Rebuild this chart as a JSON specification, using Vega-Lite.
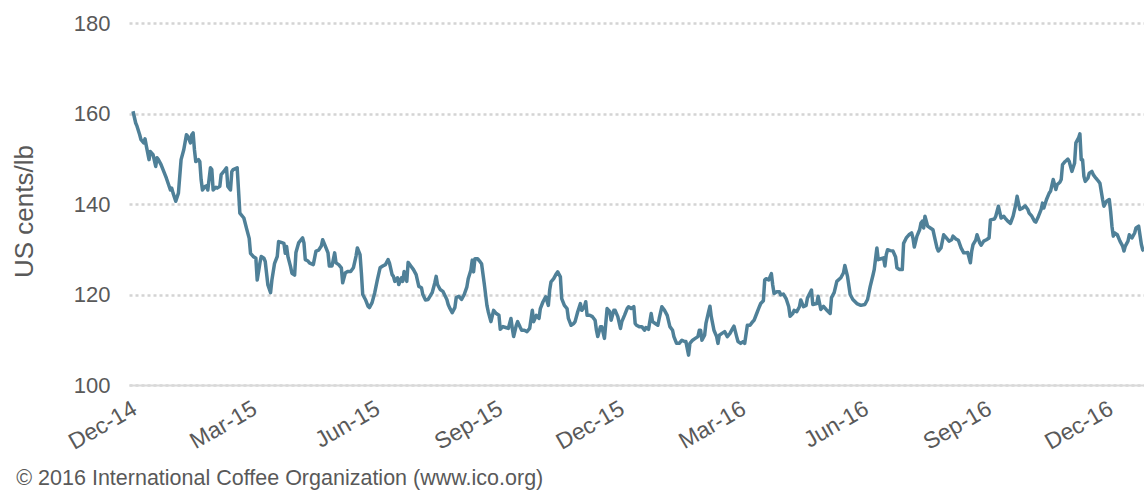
{
  "$schema": "https://vega.github.io/schema/vega-lite/v6.json",
  "width": 1015,
  "height": 362,
  "autosize": "none",
  "padding": {"left": 129, "top": 23, "right": 0, "bottom": 105},
  "background": "white",
  "config": {"view": {"stroke": null}, "font": "Liberation Sans"},
  "title": {"text": "© 2016 International Coffee Organization (www.ico.org)", "orient": "bottom", "anchor": "start", "fontSize": 21.5, "fontWeight": "normal", "color": "#595959", "font": "Liberation Sans", "dx": 5, "offset": 14},
  "data": {"values": [
    {"date":"2014-12-04","price":160.5},{"date":"2014-12-06","price":157.9},{"date":"2014-12-07","price":157.2},{"date":"2014-12-09","price":155.3},{"date":"2014-12-10","price":154.2},{"date":"2014-12-12","price":153.5},{"date":"2014-12-13","price":154.4},{"date":"2014-12-14","price":152.8},{"date":"2014-12-16","price":149.8},{"date":"2014-12-17","price":151.6},{"date":"2014-12-19","price":150.9},{"date":"2014-12-21","price":148.3},{"date":"2014-12-22","price":150.2},{"date":"2014-12-23","price":149.8},{"date":"2014-12-25","price":148.7},{"date":"2014-12-27","price":147.2},{"date":"2014-12-29","price":145.7},
    {"date":"2015-01-01","price":143.1},{"date":"2015-01-02","price":143.5},{"date":"2015-01-03","price":142.4},{"date":"2015-01-05","price":140.6},{"date":"2015-01-07","price":142.4},{"date":"2015-01-09","price":149.8},{"date":"2015-01-11","price":152.0},{"date":"2015-01-13","price":155.3},{"date":"2015-01-14","price":155.0},{"date":"2015-01-16","price":153.5},{"date":"2015-01-17","price":155.3},{"date":"2015-01-18","price":155.7},{"date":"2015-01-19","price":152.0},{"date":"2015-01-20","price":149.4},{"date":"2015-01-22","price":149.8},{"date":"2015-01-23","price":149.4},{"date":"2015-01-24","price":145.4},{"date":"2015-01-25","price":143.1},{"date":"2015-01-27","price":143.9},{"date":"2015-01-28","price":144.0},{"date":"2015-01-29","price":143.1},{"date":"2015-01-31","price":148.0},
    {"date":"2015-02-01","price":147.6},{"date":"2015-02-02","price":143.1},{"date":"2015-02-04","price":143.7},{"date":"2015-02-05","price":143.5},{"date":"2015-02-07","price":143.9},{"date":"2015-02-08","price":146.5},{"date":"2015-02-10","price":147.2},{"date":"2015-02-12","price":148.0},{"date":"2015-02-13","price":143.9},{"date":"2015-02-15","price":143.1},{"date":"2015-02-16","price":147.2},{"date":"2015-02-17","price":147.6},{"date":"2015-02-20","price":148.0},{"date":"2015-02-21","price":143.1},{"date":"2015-02-22","price":138.0},{"date":"2015-02-25","price":136.9},{"date":"2015-02-27","price":134.6},
    {"date":"2015-03-01","price":132.4},{"date":"2015-03-02","price":129.1},{"date":"2015-03-04","price":128.4},{"date":"2015-03-06","price":128.0},{"date":"2015-03-07","price":123.2},{"date":"2015-03-09","price":126.9},{"date":"2015-03-10","price":128.4},{"date":"2015-03-12","price":128.0},{"date":"2015-03-13","price":127.3},{"date":"2015-03-14","price":124.7},{"date":"2015-03-15","price":122.1},{"date":"2015-03-17","price":120.4},{"date":"2015-03-18","price":123.2},{"date":"2015-03-20","price":126.9},{"date":"2015-03-22","price":128.4},{"date":"2015-03-23","price":131.7},{"date":"2015-03-25","price":131.5},{"date":"2015-03-27","price":131.3},{"date":"2015-03-28","price":129.1},{"date":"2015-03-29","price":130.6},{"date":"2015-03-30","price":128.4},
    {"date":"2015-04-01","price":126.1},{"date":"2015-04-02","price":124.7},{"date":"2015-04-04","price":124.3},{"date":"2015-04-05","price":129.3},{"date":"2015-04-07","price":131.4},{"date":"2015-04-10","price":132.5},{"date":"2015-04-11","price":131.4},{"date":"2015-04-12","price":127.7},{"date":"2015-04-14","price":127.4},{"date":"2015-04-15","price":127.0},{"date":"2015-04-18","price":126.6},{"date":"2015-04-20","price":129.6},{"date":"2015-04-22","price":129.8},{"date":"2015-04-24","price":130.7},{"date":"2015-04-25","price":132.1},{"date":"2015-04-27","price":130.7},{"date":"2015-04-29","price":129.2},{"date":"2015-04-30","price":126.3},
    {"date":"2015-05-02","price":126.3},{"date":"2015-05-04","price":129.2},{"date":"2015-05-05","price":127.0},{"date":"2015-05-07","price":126.6},{"date":"2015-05-09","price":125.9},{"date":"2015-05-10","price":122.6},{"date":"2015-05-12","price":124.8},{"date":"2015-05-14","price":125.1},{"date":"2015-05-16","price":125.1},{"date":"2015-05-18","price":125.9},{"date":"2015-05-20","price":128.5},{"date":"2015-05-21","price":130.3},{"date":"2015-05-23","price":128.8},{"date":"2015-05-24","price":124.8},{"date":"2015-05-25","price":120.0},{"date":"2015-05-27","price":118.9},{"date":"2015-05-29","price":117.4},{"date":"2015-05-30","price":117.1},
    {"date":"2015-06-01","price":118.2},{"date":"2015-06-03","price":120.4},{"date":"2015-06-05","price":123.3},{"date":"2015-06-07","price":125.9},{"date":"2015-06-09","price":126.3},{"date":"2015-06-11","price":126.6},{"date":"2015-06-13","price":127.7},{"date":"2015-06-14","price":127.0},{"date":"2015-06-16","price":124.4},{"date":"2015-06-17","price":124.0},{"date":"2015-06-18","price":122.9},{"date":"2015-06-20","price":123.7},{"date":"2015-06-21","price":122.2},{"date":"2015-06-23","price":123.7},{"date":"2015-06-24","price":122.9},{"date":"2015-06-25","price":125.1},{"date":"2015-06-27","price":122.9},{"date":"2015-06-28","price":127.1},{"date":"2015-06-30","price":126.3},
    {"date":"2015-07-02","price":125.5},{"date":"2015-07-04","price":124.4},{"date":"2015-07-06","price":121.8},{"date":"2015-07-08","price":121.5},{"date":"2015-07-09","price":120.0},{"date":"2015-07-11","price":118.8},{"date":"2015-07-13","price":118.9},{"date":"2015-07-16","price":120.4},{"date":"2015-07-18","price":122.6},{"date":"2015-07-19","price":124.0},{"date":"2015-07-20","price":122.2},{"date":"2015-07-22","price":121.1},{"date":"2015-07-24","price":120.7},{"date":"2015-07-27","price":118.9},{"date":"2015-07-28","price":117.8},{"date":"2015-07-29","price":117.1},{"date":"2015-07-31","price":116.0},
    {"date":"2015-08-02","price":117.1},{"date":"2015-08-03","price":119.3},{"date":"2015-08-05","price":119.6},{"date":"2015-08-07","price":118.9},{"date":"2015-08-09","price":120.0},{"date":"2015-08-11","price":121.7},{"date":"2015-08-12","price":123.5},{"date":"2015-08-14","price":125.4},{"date":"2015-08-15","price":127.6},{"date":"2015-08-16","price":125.0},{"date":"2015-08-17","price":127.9},{"date":"2015-08-19","price":127.9},{"date":"2015-08-21","price":127.2},{"date":"2015-08-22","price":126.8},{"date":"2015-08-24","price":122.4},{"date":"2015-08-26","price":117.6},{"date":"2015-08-27","price":116.2},{"date":"2015-08-29","price":114.0},{"date":"2015-08-31","price":116.5},
    {"date":"2015-09-02","price":115.8},{"date":"2015-09-04","price":115.4},{"date":"2015-09-05","price":112.3},{"date":"2015-09-07","price":112.9},{"date":"2015-09-09","price":112.7},{"date":"2015-09-11","price":112.5},{"date":"2015-09-13","price":114.7},{"date":"2015-09-14","price":112.5},{"date":"2015-09-15","price":110.7},{"date":"2015-09-17","price":113.2},{"date":"2015-09-18","price":114.0},{"date":"2015-09-20","price":112.7},{"date":"2015-09-21","price":112.1},{"date":"2015-09-23","price":112.1},{"date":"2015-09-25","price":111.8},{"date":"2015-09-27","price":112.5},{"date":"2015-09-29","price":116.5},{"date":"2015-09-30","price":114.0},
    {"date":"2015-10-02","price":115.4},{"date":"2015-10-04","price":114.7},{"date":"2015-10-05","price":116.9},{"date":"2015-10-07","price":118.4},{"date":"2015-10-09","price":119.5},{"date":"2015-10-11","price":117.6},{"date":"2015-10-12","price":121.0},{"date":"2015-10-13","price":122.8},{"date":"2015-10-15","price":123.5},{"date":"2015-10-17","price":124.6},{"date":"2015-10-18","price":125.0},{"date":"2015-10-20","price":123.9},{"date":"2015-10-21","price":119.1},{"date":"2015-10-23","price":117.6},{"date":"2015-10-25","price":116.9},{"date":"2015-10-26","price":114.7},{"date":"2015-10-28","price":113.2},{"date":"2015-10-30","price":113.6},{"date":"2015-10-31","price":114.0},
    {"date":"2015-11-02","price":116.2},{"date":"2015-11-04","price":118.0},{"date":"2015-11-05","price":116.5},{"date":"2015-11-07","price":117.3},{"date":"2015-11-08","price":118.4},{"date":"2015-11-09","price":115.4},{"date":"2015-11-11","price":115.4},{"date":"2015-11-13","price":115.1},{"date":"2015-11-15","price":114.3},{"date":"2015-11-16","price":112.1},{"date":"2015-11-17","price":110.7},{"date":"2015-11-19","price":112.9},{"date":"2015-11-20","price":112.9},{"date":"2015-11-22","price":110.3},{"date":"2015-11-23","price":113.6},{"date":"2015-11-24","price":116.9},{"date":"2015-11-26","price":116.2},{"date":"2015-11-27","price":114.3},{"date":"2015-11-29","price":116.5},{"date":"2015-11-30","price":116.5},
    {"date":"2015-12-02","price":115.1},{"date":"2015-12-04","price":112.5},{"date":"2015-12-05","price":114.0},{"date":"2015-12-07","price":115.4},{"date":"2015-12-09","price":116.9},{"date":"2015-12-10","price":117.3},{"date":"2015-12-12","price":116.9},{"date":"2015-12-14","price":117.3},{"date":"2015-12-15","price":113.6},{"date":"2015-12-16","price":113.2},{"date":"2015-12-18","price":112.9},{"date":"2015-12-20","price":112.9},{"date":"2015-12-22","price":112.1},{"date":"2015-12-23","price":112.7},{"date":"2015-12-25","price":112.3},{"date":"2015-12-27","price":115.8},{"date":"2015-12-28","price":114.0},{"date":"2015-12-30","price":113.6},
    {"date":"2016-01-01","price":113.2},{"date":"2016-01-02","price":114.7},{"date":"2016-01-04","price":117.3},{"date":"2016-01-06","price":116.5},{"date":"2016-01-08","price":115.4},{"date":"2016-01-10","price":112.9},{"date":"2016-01-12","price":112.1},{"date":"2016-01-13","price":110.7},{"date":"2016-01-15","price":109.2},{"date":"2016-01-17","price":109.2},{"date":"2016-01-19","price":109.9},{"date":"2016-01-21","price":109.6},{"date":"2016-01-22","price":109.6},{"date":"2016-01-24","price":106.6},{"date":"2016-01-25","price":109.2},{"date":"2016-01-27","price":109.9},{"date":"2016-01-29","price":110.3},{"date":"2016-01-31","price":110.7},
    {"date":"2016-02-01","price":112.1},{"date":"2016-02-02","price":112.1},{"date":"2016-02-03","price":109.9},{"date":"2016-02-05","price":111.0},{"date":"2016-02-06","price":113.6},{"date":"2016-02-08","price":116.2},{"date":"2016-02-09","price":117.4},{"date":"2016-02-10","price":115.1},{"date":"2016-02-12","price":112.1},{"date":"2016-02-14","price":110.7},{"date":"2016-02-15","price":109.2},{"date":"2016-02-16","price":111.0},{"date":"2016-02-18","price":111.4},{"date":"2016-02-20","price":111.8},{"date":"2016-02-22","price":110.7},{"date":"2016-02-24","price":111.4},{"date":"2016-02-26","price":112.5},{"date":"2016-02-27","price":113.0},{"date":"2016-02-29","price":110.7},
    {"date":"2016-03-01","price":109.6},{"date":"2016-03-03","price":109.2},{"date":"2016-03-05","price":109.6},{"date":"2016-03-06","price":109.2},{"date":"2016-03-08","price":113.2},{"date":"2016-03-10","price":113.2},{"date":"2016-03-12","price":114.0},{"date":"2016-03-13","price":114.3},{"date":"2016-03-15","price":115.8},{"date":"2016-03-17","price":117.3},{"date":"2016-03-18","price":118.0},{"date":"2016-03-20","price":118.6},{"date":"2016-03-21","price":123.2},{"date":"2016-03-22","price":123.5},{"date":"2016-03-24","price":123.2},{"date":"2016-03-26","price":124.6},{"date":"2016-03-27","price":122.1},{"date":"2016-03-28","price":120.2},{"date":"2016-03-30","price":120.6},
    {"date":"2016-04-01","price":120.6},{"date":"2016-04-02","price":119.9},{"date":"2016-04-04","price":120.1},{"date":"2016-04-06","price":119.1},{"date":"2016-04-08","price":117.3},{"date":"2016-04-09","price":115.2},{"date":"2016-04-11","price":115.8},{"date":"2016-04-12","price":116.5},{"date":"2016-04-14","price":116.2},{"date":"2016-04-16","price":117.3},{"date":"2016-04-17","price":118.8},{"date":"2016-04-19","price":117.3},{"date":"2016-04-21","price":117.6},{"date":"2016-04-22","price":119.2},{"date":"2016-04-25","price":121.0},{"date":"2016-04-26","price":117.8},{"date":"2016-04-29","price":118.0},{"date":"2016-04-30","price":119.6},
    {"date":"2016-05-02","price":116.7},{"date":"2016-05-04","price":117.4},{"date":"2016-05-06","price":116.7},{"date":"2016-05-09","price":115.8},{"date":"2016-05-10","price":119.3},{"date":"2016-05-12","price":120.4},{"date":"2016-05-14","price":122.9},{"date":"2016-05-17","price":123.7},{"date":"2016-05-19","price":124.8},{"date":"2016-05-20","price":126.4},{"date":"2016-05-22","price":124.0},{"date":"2016-05-24","price":120.0},{"date":"2016-05-26","price":118.9},{"date":"2016-05-29","price":118.0},
    {"date":"2016-06-01","price":117.6},{"date":"2016-06-04","price":117.8},{"date":"2016-06-06","price":118.9},{"date":"2016-06-08","price":121.8},{"date":"2016-06-10","price":124.2},{"date":"2016-06-11","price":125.5},{"date":"2016-06-13","price":130.3},{"date":"2016-06-14","price":127.7},{"date":"2016-06-16","price":127.9},{"date":"2016-06-18","price":128.1},{"date":"2016-06-19","price":126.3},{"date":"2016-06-20","price":128.8},{"date":"2016-06-21","price":129.9},{"date":"2016-06-23","price":129.7},{"date":"2016-06-25","price":129.6},{"date":"2016-06-27","price":128.3},{"date":"2016-06-28","price":125.9},{"date":"2016-06-30","price":125.5},
    {"date":"2016-07-02","price":125.5},{"date":"2016-07-03","price":131.3},{"date":"2016-07-05","price":132.5},{"date":"2016-07-07","price":133.2},{"date":"2016-07-09","price":133.6},{"date":"2016-07-10","price":132.5},{"date":"2016-07-11","price":130.5},{"date":"2016-07-13","price":132.9},{"date":"2016-07-15","price":134.3},{"date":"2016-07-16","price":135.8},{"date":"2016-07-17","price":136.2},{"date":"2016-07-18","price":134.7},{"date":"2016-07-19","price":137.3},{"date":"2016-07-21","price":135.1},{"date":"2016-07-23","price":134.7},{"date":"2016-07-25","price":134.3},{"date":"2016-07-26","price":132.9},{"date":"2016-07-28","price":130.3},{"date":"2016-07-29","price":129.6},{"date":"2016-07-31","price":130.3},
    {"date":"2016-08-02","price":133.2},{"date":"2016-08-04","price":132.5},{"date":"2016-08-06","price":131.8},{"date":"2016-08-08","price":132.1},{"date":"2016-08-09","price":132.9},{"date":"2016-08-11","price":132.3},{"date":"2016-08-13","price":132.0},{"date":"2016-08-15","price":130.3},{"date":"2016-08-17","price":129.2},{"date":"2016-08-18","price":129.2},{"date":"2016-08-20","price":129.3},{"date":"2016-08-22","price":127.0},{"date":"2016-08-23","price":129.6},{"date":"2016-08-24","price":131.0},{"date":"2016-08-26","price":132.0},{"date":"2016-08-27","price":133.2},{"date":"2016-08-29","price":131.4},{"date":"2016-08-30","price":130.9},
    {"date":"2016-09-01","price":131.8},{"date":"2016-09-03","price":132.1},{"date":"2016-09-05","price":132.5},{"date":"2016-09-06","price":136.5},{"date":"2016-09-09","price":136.7},{"date":"2016-09-10","price":137.3},{"date":"2016-09-12","price":139.5},{"date":"2016-09-14","price":136.9},{"date":"2016-09-16","price":137.3},{"date":"2016-09-17","price":136.9},{"date":"2016-09-19","price":136.2},{"date":"2016-09-21","price":135.7},{"date":"2016-09-23","price":137.3},{"date":"2016-09-25","price":139.9},{"date":"2016-09-26","price":141.7},{"date":"2016-09-28","price":138.8},{"date":"2016-09-30","price":139.1},
    {"date":"2016-10-02","price":139.6},{"date":"2016-10-04","price":138.8},{"date":"2016-10-05","price":138.0},{"date":"2016-10-07","price":137.3},{"date":"2016-10-09","price":136.2},{"date":"2016-10-10","price":136.0},{"date":"2016-10-12","price":137.3},{"date":"2016-10-14","price":138.8},{"date":"2016-10-15","price":140.2},{"date":"2016-10-16","price":139.1},{"date":"2016-10-18","price":141.0},{"date":"2016-10-20","price":142.4},{"date":"2016-10-21","price":142.8},{"date":"2016-10-23","price":145.4},{"date":"2016-10-25","price":143.2},{"date":"2016-10-26","price":144.3},{"date":"2016-10-28","price":144.8},{"date":"2016-10-29","price":145.4},{"date":"2016-10-30","price":148.7},
    {"date":"2016-11-01","price":149.4},{"date":"2016-11-03","price":149.9},{"date":"2016-11-04","price":149.4},{"date":"2016-11-06","price":147.2},{"date":"2016-11-08","price":149.0},{"date":"2016-11-09","price":153.5},{"date":"2016-11-11","price":154.6},{"date":"2016-11-12","price":155.5},{"date":"2016-11-13","price":149.8},{"date":"2016-11-14","price":149.8},{"date":"2016-11-15","price":146.1},{"date":"2016-11-16","price":145.0},{"date":"2016-11-18","price":145.7},{"date":"2016-11-19","price":146.8},{"date":"2016-11-21","price":147.2},{"date":"2016-11-22","price":146.5},{"date":"2016-11-24","price":145.7},{"date":"2016-11-26","price":145.0},{"date":"2016-11-27","price":144.6},{"date":"2016-11-29","price":141.0},{"date":"2016-11-30","price":139.5},
    {"date":"2016-12-02","price":140.6},{"date":"2016-12-04","price":141.0},{"date":"2016-12-05","price":138.4},{"date":"2016-12-06","price":135.1},{"date":"2016-12-07","price":132.9},{"date":"2016-12-08","price":133.6},{"date":"2016-12-10","price":133.2},{"date":"2016-12-12","price":131.8},{"date":"2016-12-14","price":130.7},{"date":"2016-12-15","price":129.6},{"date":"2016-12-16","price":130.7},{"date":"2016-12-18","price":131.8},{"date":"2016-12-19","price":133.2},{"date":"2016-12-21","price":132.5},{"date":"2016-12-23","price":133.6},{"date":"2016-12-24","price":134.7},{"date":"2016-12-26","price":135.1},{"date":"2016-12-28","price":131.1},{"date":"2016-12-29","price":129.9},{"date":"2016-12-30","price":129.6}
  ]},
  "mark": {"type": "line", "color": "#4f8098", "strokeWidth": 3.5, "strokeJoin": "round", "clip": true},
  "encoding": {
    "x": {
      "field": "date", "type": "temporal", "title": null,
      "scale": {"domain": [{"year": 2014, "month": 12, "date": 1}, {"year": 2016, "month": 12, "date": 30}]},
      "axis": {
        "values": [{"year": 2014, "month": 12, "date": 1}, {"year": 2015, "month": 3, "date": 1}, {"year": 2015, "month": 6, "date": 1}, {"year": 2015, "month": 9, "date": 1}, {"year": 2015, "month": 12, "date": 1}, {"year": 2016, "month": 3, "date": 1}, {"year": 2016, "month": 6, "date": 1}, {"year": 2016, "month": 9, "date": 1}, {"year": 2016, "month": 12, "date": 1}],
        "format": "%b-%y", "labelAngle": -30, "labelAlign": "right", "labelBaseline": "top",
        "labelFontSize": 23, "labelColor": "#595959", "labelFont": "Liberation Sans", "labelPadding": 12,
        "labelBound": false, "labelOverlap": false, "labelFlush": false,
        "ticks": false, "grid": false, "domain": true, "domainColor": "#d9d9d9", "domainWidth": 2
      }
    },
    "y": {
      "field": "price", "type": "quantitative",
      "scale": {"domain": [100, 180], "nice": false, "zero": false},
      "axis": {
        "values": [100, 120, 140, 160, 180], "title": "US cents/lb",
        "titleFontSize": 26, "titleFontWeight": "normal", "titleColor": "#595959", "titleFont": "Liberation Sans", "titlePadding": 36, "titleY": 188,
        "labelFontSize": 22, "labelColor": "#595959", "labelFont": "Liberation Sans", "labelPadding": 19,
        "ticks": false, "domain": false, "grid": true, "gridColor": "#d4d4d4", "gridWidth": 2.5, "gridDash": [3, 3]
      }
    }
  }
}
